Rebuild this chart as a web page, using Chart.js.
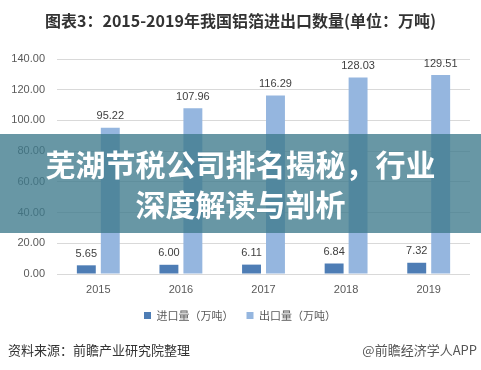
<!DOCTYPE html>
<html>
<head>
<meta charset="utf-8">
<script src="https://cdn.jsdelivr.net/npm/chart.js@4.4.1/dist/chart.umd.min.js"></script>
<style>
	body { margin: 0; background: #fff; }
	#wrap { position: relative; width: 481px; height: 370px; overflow: hidden; }
	#wrap canvas { position: absolute; left: 0; top: 0; }
	.title {
		position: absolute; left: 0; top: 9px; width: 481px; text-align: center;
		font: bold 16px/22px 'Noto Sans CJK SC', sans-serif; color: #333;
	}
	.banner {
		position: absolute; left: 0; top: 134px; width: 481px; height: 99px;
		background: rgba(62, 122, 140, 0.78);
		color: #fff; text-align: center;
		font: bold 30px/40px 'Noto Sans CJK SC', sans-serif;
		padding-top: 9px; box-sizing: border-box;
	}
	.source { position: absolute; left: 8px; top: 340px; font: 13px 'Noto Sans CJK SC', sans-serif; color: #333; }
	.app { position: absolute; right: 4px; top: 340px; font: 13px 'Noto Sans CJK SC', sans-serif; color: #555; }
</style>
</head>
<body>
<div id="wrap">
	<canvas id="myChart" width="492" height="370"></canvas>
	<div class="title">图表3：2015-2019年我国铝箔进出口数量(单位：万吨)</div>
	<div class="banner">芜湖节税公司排名揭秘，行业<br>深度解读与剖析</div>
	<div class="source">资料来源：前瞻产业研究院整理</div>
	<div class="app">@前瞻经济学人APP</div>
</div>
<script>
'use strict';

const years = ['2015', '2016', '2017', '2018', '2019'];
const importVals = [5.65, 6.00, 6.11, 6.84, 7.32];
const exportVals = [95.22, 107.96, 116.29, 128.03, 129.51];
const seriesNames = ['进口量（万吨）', '出口量（万吨）'];

// value text above each bar
const valueLabels = {
	id: 'valueLabels',
	afterDatasetsDraw(chart) {
		const ctx = chart.ctx;
		ctx.save();
		ctx.font = '11px "Liberation Sans", Arial, sans-serif';
		ctx.fillStyle = '#404040';
		ctx.textAlign = 'center';
		ctx.textBaseline = 'bottom';
		chart.data.datasets.forEach((ds, i) => {
			chart.getDatasetMeta(i).data.forEach((bar, j) => {
				ctx.fillText(ds.data[j].toFixed(2), bar.x, bar.y - 6);
			});
		});
		ctx.restore();
	}
};

const ctx = document.getElementById('myChart').getContext('2d');

const myChart = new Chart(ctx, {
	type: 'bar',
	data: {
		labels: years,
		datasets: [
			{
				label: seriesNames[0],
				data: importVals,
				backgroundColor: '#4e7db5',
				borderWidth: 0,
			},
			{
				label: seriesNames[1],
				data: exportVals,
				backgroundColor: '#95b6df',
				borderWidth: 0,
			},
		],
	},
	options: {
		responsive: false,
		animation: false,
		categoryPercentage: 0.58,
		barPercentage: 0.79,
		layout: {
			padding: { left: 10, right: 22, top: 59, bottom: 39 },
		},
		plugins: {
			legend: {
				position: 'bottom',
				labels: {
					boxWidth: 7,
					boxHeight: 7,
					padding: 13,
					color: '#595959',
					font: { family: "'Noto Sans CJK SC', sans-serif", size: 11 },
				},
			},
			tooltip: { enabled: false },
		},
		scales: {
			y: {
				min: 0,
				max: 140,
				ticks: {
					stepSize: 20,
					padding: 12,
					color: '#595959',
					font: { family: "'Liberation Sans', Arial, sans-serif", size: 11 },
					callback: v => v.toFixed(2),
				},
				grid: { color: '#d9d9d9', drawTicks: false },
				border: { display: false },
				afterFit(scale) { scale.width = 47; },
			},
			x: {
				ticks: {
					padding: 9,
					color: '#595959',
					font: { family: "'Liberation Sans', Arial, sans-serif", size: 11 },
				},
				grid: { display: false, drawTicks: false },
				border: { display: false },
				afterFit(scale) { scale.height = 23; },
			},
		},
	},
	plugins: [valueLabels],
});
</script>
</body>
</html>
